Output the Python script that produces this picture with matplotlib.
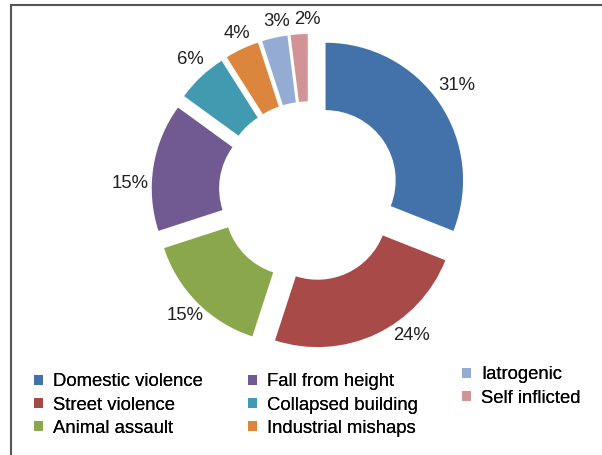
import matplotlib.pyplot as plt
from matplotlib.lines import Line2D
from matplotlib.patches import Patch

plt.rcParams['font.family'] = ['Liberation Sans', 'DejaVu Sans']

causes = ['Domestic violence', 'Street violence', 'Animal assault', 'Fall from height',
          'Collapsed building', 'Industrial mishaps', 'Iatrogenic', 'Self inflicted']
shares = [31, 24, 15, 15, 6, 4, 3, 2]
colors = ['#4272A9', '#A84A48', '#8AA84B', '#715A91', '#419AB0', '#DC853D', '#94ACD3', '#D29396']

fig = plt.figure(figsize=(6.02, 4.55), dpi=100)
ax = fig.add_axes([0, 0, 1, 1])

# work in pixel units so the ring sits where it should
R = 137.5
wedges, texts = ax.pie(shares, colors=colors, startangle=90, counterclock=False,
                       center=(309, 263.5), radius=R, explode=[20] * len(shares),
                       wedgeprops=dict(width=0.49 * R, linewidth=0),
                       labels=[f'{v}%' for v in shares], labeldistance=1.135,
                       textprops=dict(fontsize=13.3, color='#222222'))

# data labels sit where Excel put them (pixel spots, y measured from the top)
label_spots = [(457, 85), (411, 335), (185, 316), (130, 184),
               (190, 60), (237, 33), (277, 22), (307, 20)]
for t, (lx, ly) in zip(texts, label_spots):
    t.set_position((lx, 455 - ly))
    t.set_ha('center')
    t.set_va('center')

ax.set_xlim(0, 602)
ax.set_ylim(0, 455)
ax.set_aspect('equal')
ax.axis('off')

handles = [Patch(facecolor=c, edgecolor='none') for c in colors]
# three legend columns, the last one sits a bit higher
cols = [(0, 3, 34, 405), (3, 6, 248, 405), (6, 8, 462, 386.5)]
for a, b, px, py in cols:
    leg = fig.legend(handles[a:b], causes[a:b], loc='center left',
                     bbox_to_anchor=(px / 602, 1 - py / 455), frameon=False,
                     fontsize=13.3, handlelength=0.5, handleheight=0.5,
                     handletextpad=0.55, labelspacing=0.33, borderpad=0,
                     borderaxespad=0)
    fig.add_artist(leg)

# chart frame (top and left edges visible)
fig.add_artist(Line2D([11 / 602, 11 / 602], [0, 1 - 5 / 455], color='#555555', lw=1.5))
fig.add_artist(Line2D([11 / 602, 1], [1 - 5 / 455, 1 - 5 / 455], color='#555555', lw=1.5))

fig.savefig('out.png', dpi=100)
